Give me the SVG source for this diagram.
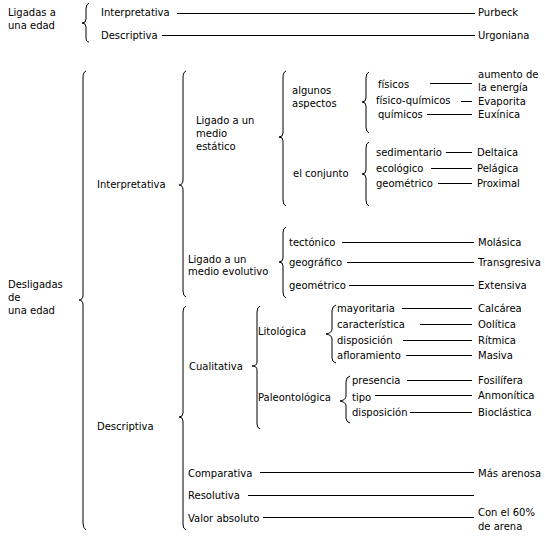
<svg xmlns="http://www.w3.org/2000/svg" width="545" height="538" viewBox="0 0 545 538">
<style>
text{font-family:"DejaVu Sans","Verdana",sans-serif;font-size:10px;fill:#000}
.c line{stroke:#000;stroke-width:1}
.c path{stroke:#000;stroke-width:1;fill:none}
</style>
<rect width="545" height="538" fill="#fff"/>
<g id="connectors" class="c">
<!-- braces -->
<path d="M89,3 Q86,4 86,9 L86,19 Q86,23 82,23 Q86,23 86,27 L86,37 Q86,42 89,42"/>
<path d="M86,71 Q83,72 83,78 L83,295 Q83,300 79,300 Q83,300 83,305 L83,523 Q83,528 86,530"/>
<path d="M186,71 Q183,72 183,78 L183,180 Q183,185 179,185 Q183,185 183,190 L183,291 Q183,296 186,297"/>
<path d="M286,71 Q283,72 283,78 L283,133 Q283,137 279,137 Q283,137 283,141 L283,200 Q283,205 286,206"/>
<path d="M369,72 Q366,73 366,78 L366,98 Q366,102 362,102 Q366,102 366,106 L366,127 Q366,132 369,133"/>
<path d="M369,142 Q366,143 366,148 L366,170 Q366,174 362,174 Q366,174 366,178 L366,200 Q366,205 369,206"/>
<path d="M286,227 Q283,228 283,233 L283,258 Q283,262 279,262 Q283,262 283,266 L283,292 Q283,297 286,298"/>
<path d="M186,306 Q183,307 183,312 L183,413 Q183,417 179,417 Q183,417 183,421 L183,524 Q183,529 186,530"/>
<path d="M260,306 Q257,307 257,312 L257,362 Q257,366 252,366 Q257,366 257,370 L257,424 Q257,428 260,429"/>
<path d="M336,305 Q332,306 332,311 L332,329 Q332,333 326,334 Q332,335 332,339 L332,358 Q332,362 336,363"/>
<path d="M350,376 Q346,377 346,382 L346,396 Q346,400 340,401 Q346,402 346,406 L346,418 Q346,422 350,423"/>
<!-- lines -->
<line x1="177" y1="13.5" x2="475" y2="13.5"/>
<line x1="162" y1="35.5" x2="475" y2="35.5"/>
<line x1="430" y1="83.5" x2="472" y2="83.5"/>
<line x1="461" y1="101.5" x2="472" y2="101.5"/>
<line x1="427" y1="114.5" x2="472" y2="114.5"/>
<line x1="446" y1="152.5" x2="472" y2="152.5"/>
<line x1="431" y1="168.5" x2="472" y2="168.5"/>
<line x1="438" y1="183.5" x2="472" y2="183.5"/>
<line x1="342" y1="242.5" x2="474" y2="242.5"/>
<line x1="347" y1="262.5" x2="474" y2="262.5"/>
<line x1="349" y1="285.5" x2="474" y2="285.5"/>
<line x1="402" y1="308.5" x2="472" y2="308.5"/>
<line x1="420" y1="324.5" x2="472" y2="324.5"/>
<line x1="403" y1="340.5" x2="472" y2="340.5"/>
<line x1="406" y1="355.5" x2="472" y2="355.5"/>
<line x1="407" y1="380.5" x2="472" y2="380.5"/>
<line x1="375" y1="395.5" x2="472" y2="395.5"/>
<line x1="410" y1="412.5" x2="472" y2="412.5"/>
<line x1="260" y1="472.5" x2="474" y2="472.5"/>
<line x1="248" y1="495.5" x2="474" y2="495.5"/>
<line x1="263" y1="517.5" x2="474" y2="517.5"/>
</g>
<g id="ligadas"><text x="8" y="16">Ligadas a</text><text x="8" y="29">una edad</text></g>
<g id="top-interp"><text x="101" y="16">Interpretativa</text></g>
<g id="top-desc"><text x="101" y="39">Descriptiva</text></g>
<g id="purbeck"><text x="478" y="16">Purbeck</text></g>
<g id="urgoniana"><text x="478" y="39">Urgoniana</text></g>

<g id="desligadas"><text x="8" y="288">Desligadas</text><text x="8" y="301">de</text><text x="8" y="314">una edad</text></g>
<g id="interp"><text x="97" y="188">Interpretativa</text></g>
<g id="estatico"><text x="196" y="124">Ligado a un</text><text x="196" y="137">medio</text><text x="196" y="150">estático</text></g>
<g id="algunos"><text x="292" y="94">algunos</text><text x="292" y="107">aspectos</text></g>
<g id="fisicos"><text x="378" y="88">físicos</text></g>
<g id="fisqui"><text x="376" y="104">físico-químicos</text></g>
<g id="quimicos"><text x="378" y="118">químicos</text></g>
<g id="aumento"><text x="478" y="78">aumento de</text><text x="478" y="91">la energía</text></g>
<g id="evaporita"><text x="478" y="105">Evaporita</text></g>
<g id="euxinica"><text x="478" y="118">Euxínica</text></g>
<g id="conjunto"><text x="293" y="177">el conjunto</text></g>
<g id="sedimentario"><text x="376" y="156">sedimentario</text></g>
<g id="ecologico"><text x="376" y="172">ecológico</text></g>
<g id="geometrico1"><text x="376" y="187">geométrico</text></g>
<g id="deltaica"><text x="477" y="156">Deltaica</text></g>
<g id="pelagica"><text x="477" y="172">Pelágica</text></g>
<g id="proximal"><text x="477" y="187">Proximal</text></g>
<g id="evolutivo"><text x="188" y="263">Ligado a un</text><text x="188" y="275">medio evolutivo</text></g>
<g id="tectonico"><text x="289" y="246">tectónico</text></g>
<g id="geografico"><text x="289" y="266">geográfico</text></g>
<g id="geometrico2"><text x="289" y="289">geométrico</text></g>
<g id="molasica"><text x="478" y="246">Molásica</text></g>
<g id="transgresiva"><text x="478" y="266">Transgresiva</text></g>
<g id="extensiva"><text x="478" y="289">Extensiva</text></g>

<g id="desc"><text x="97" y="430">Descriptiva</text></g>
<g id="cualitativa"><text x="189" y="370">Cualitativa</text></g>
<g id="litologica"><text x="258" y="335">Litológica</text></g>
<g id="mayoritaria"><text x="337" y="312">mayoritaria</text></g>
<g id="caracteristica"><text x="337" y="328">característica</text></g>
<g id="disposicion1"><text x="337" y="344">disposición</text></g>
<g id="afloramiento"><text x="337" y="359">afloramiento</text></g>
<g id="calcarea"><text x="478" y="312">Calcárea</text></g>
<g id="oolitica"><text x="478" y="328">Oolítica</text></g>
<g id="ritmica"><text x="478" y="344">Rítmica</text></g>
<g id="masiva"><text x="478" y="359">Masiva</text></g>
<g id="paleo"><text x="258" y="401">Paleontológica</text></g>
<g id="presencia"><text x="352" y="384">presencia</text></g>
<g id="tipo"><text x="352" y="401">tipo</text></g>
<g id="disposicion2"><text x="352" y="416">disposición</text></g>
<g id="fosilifera"><text x="478" y="384">Fosilífera</text></g>
<g id="anmonitica"><text x="478" y="399">Anmonítica</text></g>
<g id="bioclastica"><text x="478" y="416">Bioclástica</text></g>
<g id="comparativa"><text x="188" y="477">Comparativa</text></g>
<g id="resolutiva"><text x="188" y="499">Resolutiva</text></g>
<g id="valor"><text x="188" y="522">Valor absoluto</text></g>
<g id="arenosa"><text x="478" y="477">Más arenosa</text></g>
<g id="con60"><text x="478" y="516">Con el 60%</text><text x="478" y="530">de arena</text></g>
</svg>
